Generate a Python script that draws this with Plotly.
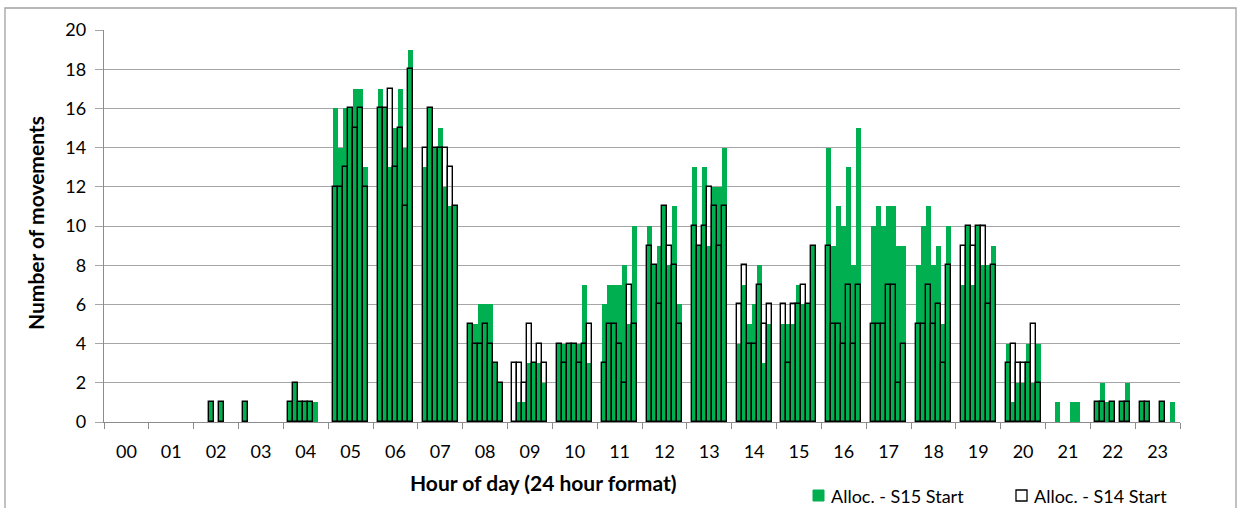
import plotly.graph_objects as go

hours = [f"{h:02d}" for h in range(24)]
slots_per_hour = 7  # data slots shown inside each hour group

# Alloc. - S15 Start (green), 7 values per hour
s15 = [
    [0, 0, 0, 0, 0, 0, 0],        # 00
    [0, 0, 0, 0, 0, 0, 0],        # 01
    [0, 0, 1, 0, 1, 0, 0],        # 02
    [1, 0, 0, 0, 0, 0, 0],        # 03
    [1, 2, 1, 1, 1, 1, 0],        # 04
    [16, 14, 16, 16, 17, 17, 13], # 05
    [17, 16, 13, 15, 17, 14, 19], # 06
    [13, 16, 14, 15, 12, 11, 11], # 07
    [5, 5, 6, 6, 6, 3, 2],        # 08
    [0, 1, 1, 3, 3, 3, 2],        # 09
    [4, 4, 4, 4, 4, 7, 3],        # 10
    [6, 7, 7, 7, 8, 5, 10],       # 11
    [10, 8, 9, 11, 8, 11, 6],     # 12
    [13, 9, 13, 9, 12, 12, 14],   # 13
    [4, 7, 5, 6, 8, 3, 5],        # 14
    [5, 5, 5, 7, 6, 6, 9],        # 15
    [14, 9, 11, 10, 13, 8, 15],   # 16
    [10, 11, 10, 11, 11, 9, 9],   # 17
    [8, 10, 11, 8, 9, 5, 10],     # 18
    [7, 10, 7, 10, 8, 8, 9],      # 19
    [4, 1, 2, 2, 4, 2, 4],        # 20
    [0, 1, 0, 0, 1, 1, 0],        # 21
    [1, 2, 1, 1, 0, 1, 2],        # 22
    [1, 1, 0, 0, 1, 0, 1],        # 23
]

# Alloc. - S14 Start (outline only)
s14 = [
    [0, 0, 0, 0, 0, 0, 0],        # 00
    [0, 0, 0, 0, 0, 0, 0],        # 01
    [0, 0, 1, 0, 1, 0, 0],        # 02
    [1, 0, 0, 0, 0, 0, 0],        # 03
    [1, 2, 1, 1, 1, 0, 0],        # 04
    [12, 12, 13, 16, 15, 16, 12], # 05
    [16, 16, 17, 13, 15, 11, 18], # 06
    [14, 16, 14, 14, 14, 13, 11], # 07
    [5, 4, 4, 5, 4, 3, 2],        # 08
    [3, 3, 2, 5, 3, 4, 3],        # 09
    [4, 3, 4, 4, 3, 4, 5],        # 10
    [3, 5, 5, 4, 2, 7, 5],        # 11
    [9, 8, 6, 11, 9, 8, 5],       # 12
    [10, 9, 10, 12, 11, 9, 11],   # 13
    [6, 8, 4, 4, 7, 5, 6],        # 14
    [6, 3, 6, 6, 7, 6, 9],        # 15
    [9, 5, 5, 4, 7, 4, 7],        # 16
    [5, 5, 5, 7, 7, 2, 4],        # 17
    [5, 5, 7, 5, 6, 3, 8],        # 18
    [9, 10, 9, 10, 10, 6, 8],     # 19
    [3, 4, 3, 3, 3, 5, 2],        # 20
    [0, 0, 0, 0, 0, 0, 0],        # 21
    [1, 1, 0, 1, 0, 1, 1],        # 22
    [1, 1, 0, 0, 1, 0, 0],        # 23
]

series_names = ["Alloc. - S15 Start", "Alloc. - S14 Start"]
y_ticks = list(range(0, 21, 2))

# ---- positions on a numeric hour axis (each hour split into 9 equal cells, data in cells 1..7)
cells = slots_per_hour + 2
xs, v15, v14 = [], [], []
for h in range(24):
    for k in range(slots_per_hour):
        xs.append(h + (k + 1.5) / cells)
        v15.append(s15[h][k] if s15[h][k] else None)
        v14.append(s14[h][k] if s14[h][k] else None)

FONT = "Lato"
GREEN = "#00B050"
GRID = "#A6A6A6"
AXIS = "#8C8C8C"

# plot-area geometry in pixels
W_FIG, H_FIG = 1241, 508
L, R, T, B = 104, 1180, 30, 422
PW, PH = R - L, B - T


def px(x):
    return (x - L) / PW


def py(y):
    return (B - y) / PH


fig = go.Figure()
fig.add_trace(go.Bar(x=xs, y=v15, width=1 / cells, name=series_names[0],
                     marker=dict(color=GREEN, line=dict(width=0))))
fig.add_trace(go.Bar(x=xs, y=v14, width=1 / cells, name=series_names[1],
                     marker=dict(color="rgba(255,255,255,0)", line=dict(color="black", width=1.4))))

fig.update_layout(
    width=W_FIG, height=H_FIG, autosize=False,
    margin=dict(l=L, r=W_FIG - R, t=T, b=H_FIG - B, autoexpand=False),
    paper_bgcolor="white", plot_bgcolor="white",
    barmode="overlay", bargap=0, showlegend=False,
    font=dict(family=FONT, size=18, color="black"),
    xaxis=dict(range=[0, 24], tickmode="array", tickvals=[h + 0.5 for h in range(24)],
               ticktext=hours, ticks="outside", ticklen=13, tickcolor="rgba(0,0,0,0)",
               showline=True, linecolor=AXIS, linewidth=1.3, showgrid=False, zeroline=False,
               minor=dict(tickmode="array", tickvals=list(range(25)), ticks="outside",
                          ticklen=6, tickcolor=AXIS, tickwidth=1.3, showgrid=False)),
    yaxis=dict(range=[0, 20], tickmode="array", tickvals=y_ticks, ticks="outside", ticklen=8,
               tickcolor=GRID, tickwidth=1.3, showline=True, linecolor=AXIS, linewidth=1.3,
               showgrid=True, gridcolor=GRID, gridwidth=1.3, zeroline=False,
               ticklabelstandoff=5),
    yaxis2=dict(range=[0, 20], tickmode="array", tickvals=y_ticks, overlaying="y", side="right",
                ticks="outside", ticklen=8, tickcolor=GRID, tickwidth=1.3, showline=True,
                linecolor=AXIS, linewidth=1.3, showgrid=False, zeroline=False),
)

fig.add_annotation(text="<b>Hour of day (24 hour format)</b>", xref="paper", yref="paper",
                   x=px(543), y=py(482), xanchor="center", yanchor="middle",
                   showarrow=False, font=dict(family=FONT, size=21))
fig.add_annotation(text="<b>Number of movements</b>", xref="paper", yref="paper",
                   x=px(35), y=py(223), xanchor="center", yanchor="middle",
                   textangle=-90, showarrow=False, font=dict(family=FONT, size=21))

# legend drawn as key squares + labels
legend_items = [
    (813, dict(fillcolor=GREEN, line=dict(color=GREEN, width=1))),
    (1016, dict(fillcolor="white", line=dict(color="black", width=1.3))),
]
for (lx, style), name in zip(legend_items, series_names):
    fig.add_shape(type="rect", xref="paper", yref="paper",
                  x0=px(lx), x1=px(lx + 11), y0=py(501), y1=py(490), **style)
    fig.add_annotation(text=name, xref="paper", yref="paper", x=px(lx + 16), y=py(495.5),
                       xanchor="left", yanchor="middle", showarrow=False,
                       font=dict(family=FONT, size=18))

# chart-area border
fig.add_shape(type="rect", xref="paper", yref="paper",
              x0=px(5), x1=px(1236), y0=py(600), y1=py(8),
              line=dict(color="#A0A0A0", width=1.3), fillcolor="rgba(0,0,0,0)", layer="below")

fig.write_html("out.html", config={"displayModeBar": False},
               post_script="document.body.style.margin='0px';")
